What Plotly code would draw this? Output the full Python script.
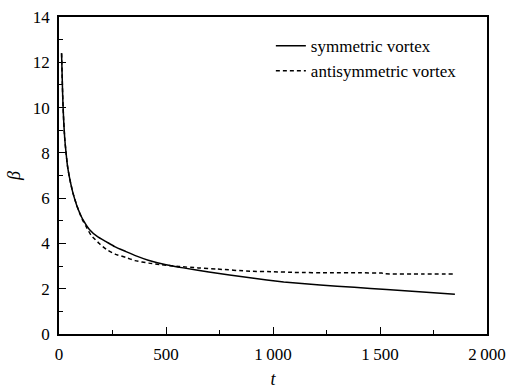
import plotly.graph_objects as go

# Time samples and amplification ratio for the two vortex modes
t_sym = [12, 15, 18, 22, 27, 33, 40, 48, 57, 66, 83, 98, 111, 142, 180, 220,
         260, 313, 360, 417, 500, 581, 700, 893, 1050, 1220, 1380, 1531, 1700,
         1850]
beta_sym = [12.4, 11.3, 10.3, 9.4, 8.6, 8.0, 7.4, 6.96, 6.55, 6.2, 5.68, 5.32,
            5.06, 4.62, 4.3, 4.08, 3.86, 3.64, 3.45, 3.26, 3.06, 2.92, 2.74,
            2.48, 2.30, 2.16, 2.06, 1.96, 1.86, 1.76]

t_anti = [12, 15, 18, 22, 27, 33, 40, 48, 57, 66, 83, 98, 111, 126, 150, 188,
          222, 262, 313, 355, 420, 480, 560, 650, 737, 893, 1000, 1100, 1266,
          1400, 1508, 1520, 1700, 1840]
beta_anti = [12.4, 11.3, 10.3, 9.4, 8.6, 8.0, 7.4, 6.96, 6.55, 6.2, 5.68, 5.30,
             5.02, 4.76, 4.36, 4.0, 3.73, 3.53, 3.38, 3.24, 3.13, 3.06, 2.98,
             2.92, 2.87, 2.77, 2.75, 2.72, 2.70, 2.70, 2.69, 2.66, 2.65, 2.65]

x_tickvals = [0, 500, 1000, 1500, 2000]
x_ticktext = ["0", "500", "1\u2009000", "1\u2009500", "2\u2009000"]
y_tickvals = [0, 2, 4, 6, 8, 10, 12, 14]

font_family = "Liberation Serif, Times New Roman, serif"

fig = go.Figure()
fig.add_trace(go.Scatter(
    x=t_sym, y=beta_sym, mode="lines", name="symmetric vortex",
    line=dict(color="black", width=1.5, shape="spline", smoothing=0.5),
))
fig.add_trace(go.Scatter(
    x=t_anti, y=beta_anti, mode="lines", name="antisymmetric vortex",
    line=dict(color="black", width=1.5, dash="4px,3px", shape="spline", smoothing=0.5),
))

axis_common = dict(
    showline=True, linecolor="black", linewidth=1.5, mirror=True,
    showgrid=False, zeroline=False, automargin=False,
    ticks="inside", ticklen=7, tickwidth=1.2, tickcolor="black",
    tickfont=dict(family=font_family, size=17, color="black"),
)

fig.update_xaxes(
    range=[0, 2000], tickmode="array", tickvals=x_tickvals, ticktext=x_ticktext,
    ticklabelstandoff=4,
    minor=dict(ticks="inside", ticklen=4, tickwidth=1.2, tickcolor="black", dtick=250,
               tick0=0, showgrid=False),
    title=dict(text="<i>t</i>", font=dict(family=font_family, size=18, color="black"),
               standoff=10),
    **axis_common,
)
fig.update_yaxes(
    range=[0, 14], tickmode="array", tickvals=y_tickvals,
    ticklabelstandoff=4,
    minor=dict(ticks="inside", ticklen=4, tickwidth=1.2, tickcolor="black", dtick=1,
               tick0=0, showgrid=False),
    title=dict(text="<i>β</i>", font=dict(family=font_family, size=18, color="black"),
               standoff=8),
    **axis_common,
)

fig.update_layout(
    width=507, height=389,
    margin=dict(l=59, r=20, t=17, b=55),
    paper_bgcolor="white", plot_bgcolor="white",
    font=dict(family=font_family, color="black"),
    legend=dict(
        x=0.495, y=0.965, xanchor="left", yanchor="top",
        bgcolor="rgba(0,0,0,0)", borderwidth=0,
        font=dict(family=font_family, size=17, color="black"),
        tracegroupgap=0, itemwidth=30,
    ),
    showlegend=True,
)

fig.write_html("out.html")
